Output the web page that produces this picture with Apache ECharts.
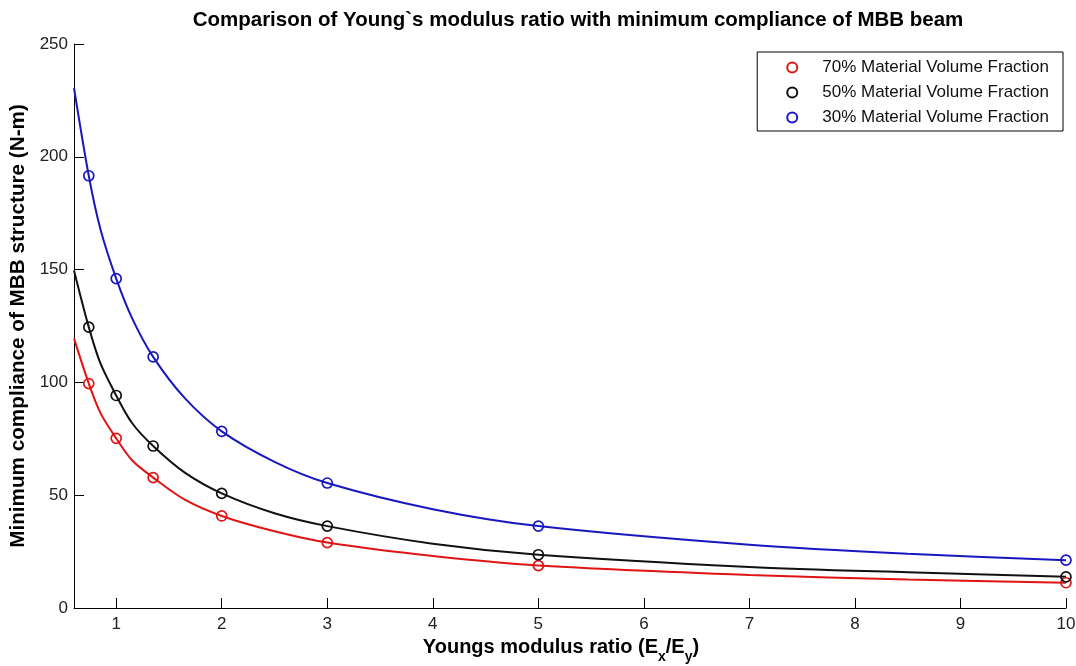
<!DOCTYPE html>
<html>
<head>
<meta charset="utf-8">
<script src="https://cdn.jsdelivr.net/npm/echarts@6/dist/echarts.min.js"></script>
<style>html,body{margin:0;padding:0;background:#fff;}#chart{width:1076px;height:666px;}</style>
</head>
<body>
<div id="chart"></div>
<script>
// ---- data ----
const seriesNames = ['70% Material Volume Fraction', '50% Material Volume Fraction', '30% Material Volume Fraction'];
// measured points (circle markers)
const xPoints = [0.74, 1, 1.35, 2, 3, 5, 10];
const red70 = [99.5, 75.2, 57.8, 40.8, 29, 18.8, 11.2];
const black50 = [124.5, 94.2, 71.8, 50.8, 36.3, 23.6, 13.8];
const blue30 = [191.6, 146, 111.3, 78.3, 55.4, 36.3, 21.2];
// fitted curves, values
const curveX = [0.6, 0.74, 0.85, 1, 1.15, 1.35, 1.65, 2, 2.5, 3, 4, 5, 7, 8.5, 10];
const red70Curve = [119.5, 99.5, 86.5, 75.2, 65.5, 57.8, 48, 40.8, 34, 29, 23, 18.8, 14.6, 12.6, 11.2];
const black50Curve = [149.6, 124.5, 108.5, 94.2, 82, 71.8, 60, 50.8, 42, 36.3, 28.5, 23.6, 18.2, 15.8, 13.8];
const blue30Curve = [230.5, 191.6, 168, 146, 128.5, 111.3, 93, 78.3, 64.8, 55.4, 43.8, 36.3, 28, 24, 21.2];
const xTickValues = [1, 2, 3, 4, 5, 6, 7, 8, 9, 10];

const colors = ['#e01414', '#111111', '#1818c0'];
const pointSets = [red70, black50, blue30];
const curveSets = [red70Curve, black50Curve, blue30Curve];
const FONT = 'Liberation Sans, Arial, sans-serif';

function pairs(xs, ys) { return xs.map((x, i) => [x, ys[i]]); }

const series = [];
curveSets.forEach((ys, i) => {
  series.push({
    name: seriesNames[i] + ' fit',
    type: 'line',
    data: pairs(curveX, ys),
    smooth: 0.3,
    showSymbol: false,
    silent: true,
    lineStyle: { color: colors[i], width: 2 },
    z: 2
  });
});
pointSets.forEach((ys, i) => {
  series.push({
    name: seriesNames[i],
    type: 'scatter',
    data: pairs(xPoints, ys),
    symbol: 'circle',
    symbolSize: 10,
    itemStyle: { color: 'rgba(255,255,255,0)', borderColor: colors[i], borderWidth: 1.7, opacity: 1 },
    z: 3
  });
});

const chart = echarts.init(document.getElementById('chart'), null, { renderer: 'canvas' });
chart.setOption({
  animation: false,
  backgroundColor: '#ffffff',
  textStyle: { fontFamily: FONT },
  title: {
    text: 'Comparison of Young`s modulus ratio with minimum compliance of MBB beam',
    left: 573, top: 5, textAlign: 'center',
    textStyle: { fontFamily: FONT, fontSize: 20.5, fontWeight: 'bold', color: '#000' }
  },
  legend: {
    data: seriesNames,
    orient: 'vertical',
    right: 13, top: 52,
    itemWidth: 10, itemHeight: 10,
    itemGap: 8,
    padding: [7, 14, 5, 29],
    borderColor: '#000', borderWidth: 1,
    backgroundColor: '#fff',
    textStyle: { fontFamily: FONT, fontSize: 17, color: '#111', padding: [0, 0, 0, 20] }
  },
  grid: { left: 74, right: 10, top: 44, bottom: 58, containLabel: false, outerBoundsMode: 'none' },
  xAxis: {
    type: 'value', min: 0.6, max: 10,
    name: '{b|Youngs modulus ratio (E}{s|x}{b|/E}{s|y}{b|)}',
    nameLocation: 'middle', nameGap: 26,
    nameTextStyle: {
      padding: [0, 18, 0, 0],
      rich: {
        b: { fontFamily: FONT, fontSize: 20, fontWeight: 'bold', color: '#000', verticalAlign: 'bottom' },
        s: { fontFamily: FONT, fontSize: 14, fontWeight: 'bold', color: '#000', verticalAlign: 'bottom', padding: [0, 0, -6, 0] }
      }
    },
    axisLine: { onZero: false, lineStyle: { color: '#000', width: 1 } },
    axisTick: { inside: true, length: 10, customValues: xTickValues, lineStyle: { color: '#000' } },
    axisLabel: { customValues: xTickValues, fontFamily: FONT, fontSize: 17, color: '#222', margin: 8 },
    splitLine: { show: false }
  },
  yAxis: {
    type: 'value', min: 0, max: 250, interval: 50,
    name: 'Minimum compliance of MBB structure (N-m)',
    nameLocation: 'middle', nameGap: 40, nameRotate: 90,
    nameTextStyle: { fontFamily: FONT, fontSize: 20.7, fontWeight: 'bold', color: '#000' },
    axisLine: { show: true, onZero: false, lineStyle: { color: '#000', width: 1 } },
    axisTick: { show: true, inside: true, length: 10, lineStyle: { color: '#000' } },
    axisLabel: { fontFamily: FONT, fontSize: 17, color: '#222', margin: 6 },
    splitLine: { show: false }
  },
  series: series
});
</script>
</body>
</html>
